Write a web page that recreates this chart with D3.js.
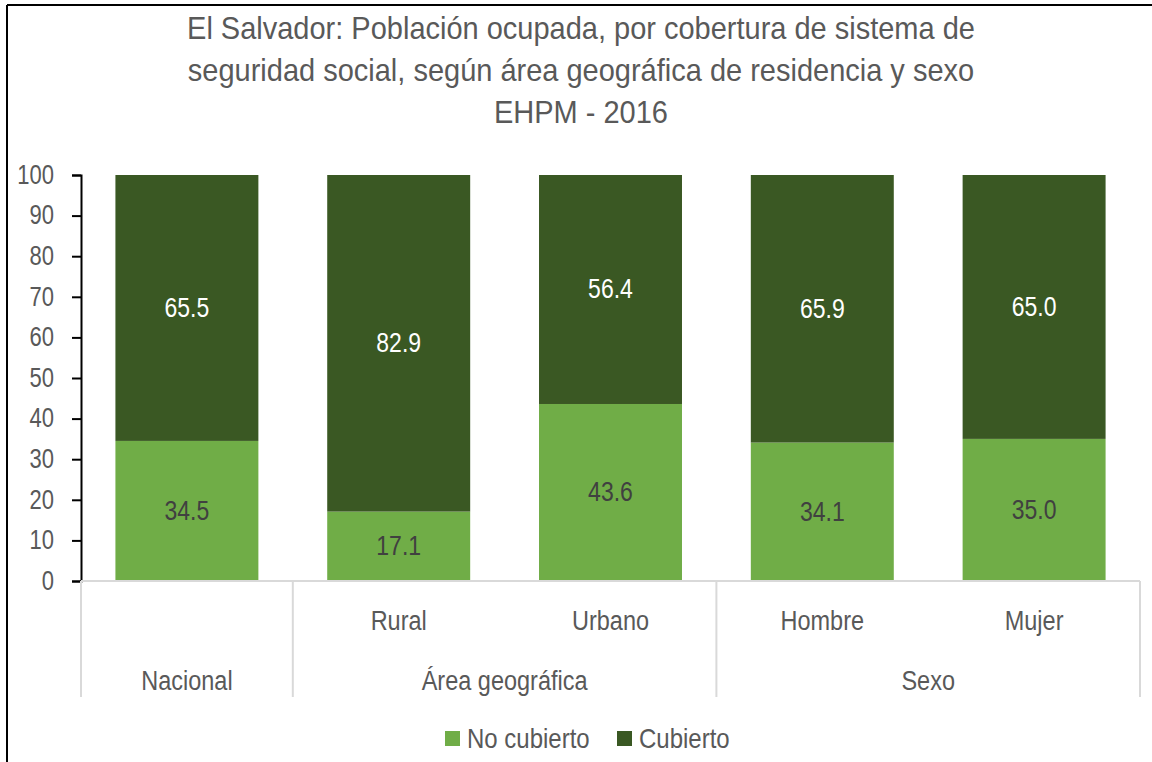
<!DOCTYPE html>
<html>
<head>
<meta charset="utf-8">
<script src="https://cdn.jsdelivr.net/npm/d3@7"></script>
<style>
  body { margin: 0; background: #fff; }
  svg text { font-family: "Liberation Sans Narrow", "Arial Narrow", "Liberation Sans", sans-serif; }
</style>
</head>
<body>
<div class="svg-container"></div>
<script>
const titleLines = [
  'El Salvador: Población ocupada, por cobertura de sistema de',
  'seguridad social, según área geográfica de residencia y sexo',
  'EHPM - 2016'
]
const categories = ['Nacional', 'Rural', 'Urbano', 'Hombre', 'Mujer']
const innerLabels = ['', 'Rural', 'Urbano', 'Hombre', 'Mujer']
const groupNames = ['Nacional', 'Área geográfica', 'Sexo']
const groupSpans = [[0, 0], [1, 2], [3, 4]]
const noCubierto = [34.5, 17.1, 43.6, 34.1, 35.0]
const cubierto = [65.5, 82.9, 56.4, 65.9, 65.0]
const seriesNames = ['No cubierto', 'Cubierto']
const yTicks = [0, 10, 20, 30, 40, 50, 60, 70, 80, 90, 100]

const colors = ['#70ad47', '#3a5823']
const labelColors = ['#404040', '#ffffff']

const W = 1152, H = 762
const margin = { left: 81, right: 12, top: 175, bottom: 181 }

// the source font is a tall condensed face: keep the width, stretch the height
function stretch(sel, k) {
  sel.each(function() {
    const t = d3.select(this)
    const yy = +t.attr('y') || 0
    t.attr('y', yy / k).attr('transform', `scale(1,${k})`)
  })
}

const svg = d3.select('.svg-container').append('svg')
  .attr('width', W)
  .attr('height', H);

// outer frame (only top and left edges show)
svg.append('line').attr('x1', 7).attr('x2', W).attr('y1', 5).attr('y2', 5)
  .style('stroke', '#000').style('stroke-width', 2);
svg.append('line').attr('x1', 7).attr('x2', 7).attr('y1', 5).attr('y2', H)
  .style('stroke', '#000').style('stroke-width', 2);

svg.selectAll('.title')
  .data(titleLines)
  .enter()
  .append('text')
  .attr('class', 'title')
  .attr('x', 581)
  .attr('y', (d, i) => 39 + i * 42)
  .attr('text-anchor', 'middle')
  .style('font-size', '29px')
  .style('fill', '#595959')
  .text(d => d)
  .call(stretch, 1.07);

const x = d3.scaleBand()
  .domain(categories)
  .range([margin.left, 1140])
  .paddingInner(0.325)
  .paddingOuter(0.1625);

const y = d3.scaleLinear()
  .domain([0, 100])
  .range([581, margin.top]);

const rows = categories.map((c, i) => ({ cat: c, 'No cubierto': noCubierto[i], 'Cubierto': cubierto[i] }))
const stacked = d3.stack().keys(seriesNames)(rows)

const layers = svg.selectAll('.layer')
  .data(stacked)
  .enter()
  .append('g')
  .attr('class', 'layer')
  .style('fill', (d, i) => colors[i]);

layers.selectAll('rect')
  .data(d => d)
  .enter()
  .append('rect')
  .attr('x', d => x(d.data.cat))
  .attr('width', x.bandwidth())
  .attr('y', d => y(d[1]))
  .attr('height', d => y(d[0]) - y(d[1]));

layers.selectAll('.val')
  .data((d, i) => d.map(p => ({ p, i, v: p[1] - p[0] })))
  .enter()
  .append('text')
  .attr('class', 'val')
  .attr('x', d => x(d.p.data.cat) + x.bandwidth() / 2)
  .attr('y', d => y((d.p[0] + d.p[1]) / 2) + 9)
  .attr('text-anchor', 'middle')
  .style('font-size', '23px')
  .style('fill', d => labelColors[d.i])
  .text(d => d.v.toFixed(1))
  .call(stretch, 1.2);

// y axis
const yAxis = d3.axisLeft(y).tickValues(yTicks).tickSize(9).tickPadding(18);
const yg = svg.append('g')
  .attr('transform', `translate(${margin.left},0)`)
  .call(yAxis);
yg.select('.domain').style('stroke', '#000').style('stroke-width', 2);
yg.selectAll('.tick line').style('stroke', '#000').style('stroke-width', 2);
yg.selectAll('.tick text')
  .style('font-size', '22px')
  .style('fill', '#595959')
  .style('font-family', '"Liberation Sans Narrow", "Arial Narrow", "Liberation Sans", sans-serif')
  .attr('dy', '0.3em')
  .attr('transform', 'scale(1,1.25)');

// category axis (multi-level)
const axisColor = '#d9d9d9'
svg.append('line')
  .attr('x1', margin.left).attr('x2', 1140)
  .attr('y1', 581).attr('y2', 581)
  .style('stroke', axisColor).style('stroke-width', 2);

const step = x.step()
const seps = [margin.left].concat(groupSpans.map(s => x(categories[s[1]]) + x.bandwidth() + step * x.paddingInner() / 2))
seps[seps.length - 1] = 1140
svg.selectAll('.sep')
  .data(seps)
  .enter()
  .append('line')
  .attr('class', 'sep')
  .attr('x1', d => d).attr('x2', d => d)
  .attr('y1', 581).attr('y2', 697)
  .style('stroke', axisColor).style('stroke-width', 2);

svg.selectAll('.inner')
  .data(innerLabels)
  .enter()
  .append('text')
  .attr('class', 'inner')
  .attr('x', (d, i) => x(categories[i]) + x.bandwidth() / 2)
  .attr('y', 630)
  .attr('text-anchor', 'middle')
  .style('font-size', '23.5px')
  .style('fill', '#595959')
  .text(d => d)
  .call(stretch, 1.18);

svg.selectAll('.group')
  .data(groupNames)
  .enter()
  .append('text')
  .attr('class', 'group')
  .attr('x', (d, i) => (seps[i] + seps[i + 1]) / 2)
  .attr('y', 690)
  .attr('text-anchor', 'middle')
  .style('font-size', '23.5px')
  .style('fill', '#595959')
  .text(d => d)
  .call(stretch, 1.18);

// legend
const legendX = [445, 617]
const legend = svg.selectAll('.legend')
  .data(seriesNames)
  .enter()
  .append('g')
  .attr('class', 'legend')
  .attr('transform', (d, i) => `translate(${legendX[i]},731)`);

legend.append('rect')
  .attr('width', 15).attr('height', 15)
  .style('fill', (d, i) => colors[i]);

legend.append('text')
  .attr('x', 22)
  .attr('y', 17)
  .style('font-size', '24px')
  .style('fill', '#595959')
  .text(d => d)
  .call(stretch, 1.15);
</script>
</body>
</html>
